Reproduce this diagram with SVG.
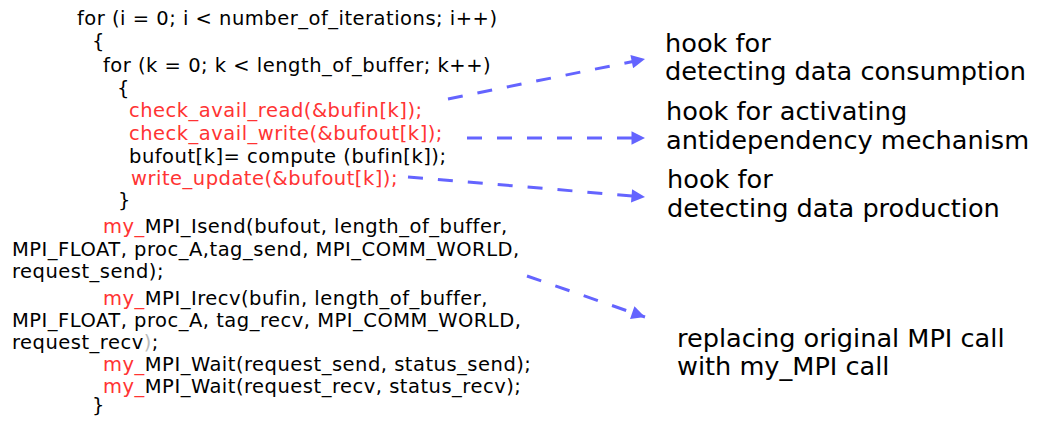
<svg xmlns="http://www.w3.org/2000/svg" width="1041" height="421" viewBox="0 0 1041 421">
  <style>
    .code { font-family: "DejaVu Sans", "Liberation Sans", sans-serif; font-size: 19.5px; letter-spacing: 0.5px; fill: #000; }
    .hook { fill: #ff3333; }
    .dim { fill: #bbbbbb; }
    .note { font-family: "DejaVu Sans", "Liberation Sans", sans-serif; font-size: 25.6px; fill: #000; }
    .link { stroke: #6464ff; stroke-width: 3; stroke-dasharray: 15 15; fill: none; marker-end: url(#head); }
  </style>
  <defs>
    <marker id="head" viewBox="0 0 10 10" refX="10" refY="5" markerWidth="6" markerHeight="4.5" markerUnits="strokeWidth" orient="auto">
      <path d="M0,0 L10,5 L0,10 z" fill="#6464ff"/>
    </marker>
  </defs>
  <rect width="1041" height="421" fill="#fff"/>

  <!-- instrumented source listing -->
  <g id="code">
    <text class="code" x="77" y="25">for (i = 0; i &lt; number_of_iterations; i++)</text>
    <text class="code" x="92" y="48">{</text>
    <text class="code" x="103" y="72">for (k = 0; k &lt; length_of_buffer; k++)</text>
    <text class="code" x="117" y="95">{</text>
    <text class="code hook" x="129" y="117">check_avail_read(&amp;bufin[k]);</text>
    <text class="code hook" x="129" y="140">check_avail_write(&amp;bufout[k]);</text>
    <text class="code" x="129" y="163">bufout[k]= compute (bufin[k]);</text>
    <text class="code hook" x="131" y="185">write_update(&amp;bufout[k]);</text>
    <text class="code" x="118" y="207">}</text>
    <text class="code" x="103" y="233"><tspan class="hook">my_</tspan>MPI_Isend(bufout, length_of_buffer,</text>
    <text class="code" x="12" y="256">MPI_FLOAT, proc_A,tag_send, MPI_COMM_WORLD,</text>
    <text class="code" x="12" y="278">request_send);</text>
    <text class="code" x="103" y="305"><tspan class="hook">my_</tspan>MPI_Irecv(bufin, length_of_buffer,</text>
    <text class="code" x="12" y="327">MPI_FLOAT, proc_A, tag_recv, MPI_COMM_WORLD,</text>
    <text class="code" x="12" y="349">request_recv<tspan class="dim">)</tspan>;</text>
    <text class="code" x="103" y="371"><tspan class="hook">my_</tspan>MPI_Wait(request_send, status_send);</text>
    <text class="code" x="103" y="393"><tspan class="hook">my_</tspan>MPI_Wait(request_recv, status_recv);</text>
    <text class="code" x="92" y="412">}</text>
  </g>

  <!-- annotations -->
  <g id="note-consumption">
    <text class="note" x="665" y="52">hook for</text>
    <text class="note" x="665" y="80">detecting data consumption</text>
  </g>
  <g id="note-antidependency">
    <text class="note" x="666" y="120">hook for activating</text>
    <text class="note" x="666" y="149">antidependency mechanism</text>
  </g>
  <g id="note-production">
    <text class="note" x="667" y="188">hook for</text>
    <text class="note" x="667" y="217">detecting data production</text>
  </g>
  <g id="note-replace">
    <text class="note" x="677" y="347">replacing original MPI call</text>
    <text class="note" x="677" y="375">with my_MPI call</text>
  </g>

  <!-- dashed pointers from code lines to annotations -->
  <g id="connectors">
    <line class="link" x1="448" y1="99" x2="645" y2="59"/>
    <line class="link" x1="467" y1="138" x2="645" y2="138"/>
    <line class="link" x1="408" y1="177" x2="645" y2="197"/>
    <line class="link" x1="527" y1="276" x2="645" y2="317"/>
  </g>
</svg>
